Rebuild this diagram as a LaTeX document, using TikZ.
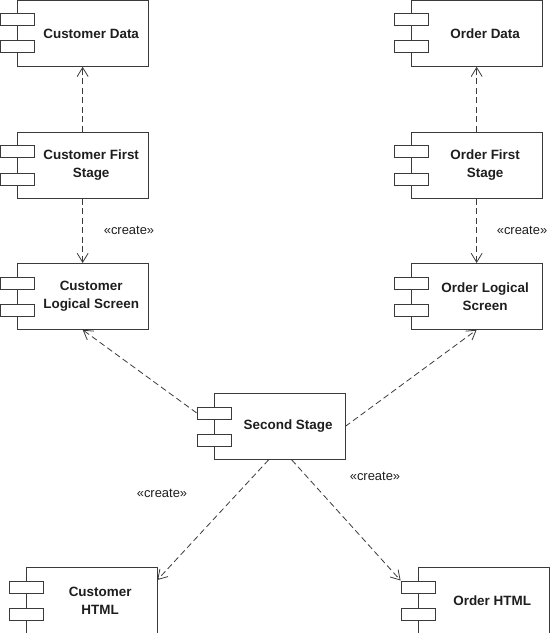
\documentclass[tikz,border=0pt]{standalone}
\usepackage{fontspec}
\setmainfont{Liberation Sans}
\usetikzlibrary{arrows.meta,calc}
\definecolor{linegray}{HTML}{3A3A3A}
\definecolor{textdark}{HTML}{1E1E1E}
\tikzset{
  compbox/.style={draw=linegray, line width=0.8bp, fill=white, inner sep=0pt,
    minimum height=66bp, minimum width=131bp, anchor=north west},
  porttab/.style={draw=linegray, line width=0.8bp, fill=white, inner sep=0pt,
    minimum width=34bp, minimum height=12bp},
  complabel/.style={text=textdark, align=center, inner sep=0pt,
    font=\bfseries\fontsize{13.5}{18}\selectfont},
  stereo/.style={text=textdark, inner sep=0pt, font=\fontsize{13}{16}\selectfont},
  dep/.style={draw=linegray, line width=0.8bp, dash pattern=on 6bp off 3.5bp,
    -{Straight Barb[length=9bp,width=11bp,line width=0.8bp]}}
}
\newcommand{\umlcomp}[5]{%
  \node[compbox, minimum width=#4] (#1) at (#2,#3) {};
  \node[porttab] (#1-p1) at ([yshift=13.5bp]#1.west) {};
  \node[porttab] (#1-p2) at ([yshift=-13.5bp]#1.west) {};
  \node[complabel] (#1-t) at ([xshift=8.5bp]#1.center) {#5};
}
\begin{document}
\begin{tikzpicture}[x=1bp,y=-1bp]
\useasboundingbox (0,0) rectangle (550,633);
\begin{scope}
\clip (0,0) rectangle (550,633);
% left column
\umlcomp{cd}{17}{0}{131}{Customer Data}
\umlcomp{cfs}{17}{132}{131}{Customer First\\Stage}
\umlcomp{cls}{17}{263}{131}{Customer\\Logical Screen}
% right column
\umlcomp{od}{411}{0}{131}{Order Data}
\umlcomp{ofs}{411}{132}{131}{Order First\\Stage}
\umlcomp{ols}{411}{263}{131}{Order Logical\\Screen}
% center
\umlcomp{ss}{214}{393}{131}{Second Stage}
% bottom
\umlcomp{ch}{26}{567}{131}{Customer\\HTML}
\umlcomp{oh}{418}{567}{131}{Order HTML}

% connectors
\draw[dep] (cfs.north) -- (cd.south);
\draw[dep] (cfs.south) -- (cls.north);
\draw[dep] (ofs.north) -- (od.south);
\draw[dep] (ofs.south) -- (ols.north);
\draw[dep] (ss-p1.west) -- (cls.south);
\draw[dep] (ss.east) -- (ols.south);
\coordinate (ssl) at ([xshift=-11bp]ss.south);
\coordinate (ssr) at ([xshift=12bp]ss.south);
\coordinate (chin) at ([yshift=-13bp]ch.north east);
\draw[dep] (ssl) -- (chin);
\draw[dep] (ssr) -- (oh-p1.north west);

% stereotype labels
\node[stereo] (l1) at (129,230) {«create»};
\node[stereo] (l2) at (522,230) {«create»};
\node[stereo] (l3) at (162,493) {«create»};
\node[stereo] (l4) at (375,476) {«create»};
\end{scope}
\end{tikzpicture}
\end{document}
